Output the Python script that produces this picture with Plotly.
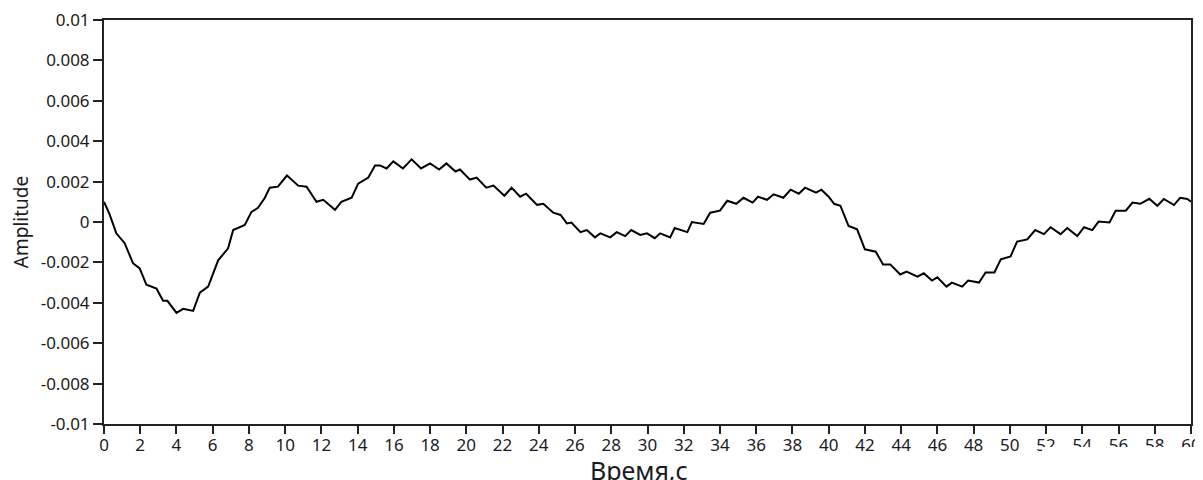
import plotly.graph_objects as go

time_s = [0, 0.3, 0.68, 1.14, 1.6, 1.97, 2.34, 2.9, 3.26, 3.5, 4.0, 4.37, 4.92, 5.29, 5.75, 6.3,
          6.85, 7.13, 7.77, 8.14, 8.5, 8.88, 9.15, 9.6, 10.1, 10.72, 11.18, 11.73, 12.1, 12.75,
          13.1, 13.67, 14.03, 14.59, 14.96, 15.23, 15.6, 15.97, 16.5, 16.98, 17.5, 18.0, 18.5,
          18.9, 19.4, 19.65, 20.2, 20.57, 21.1, 21.5, 22.1, 22.5, 22.97, 23.3, 23.9, 24.25,
          24.8, 25.2, 25.55, 25.8, 26.3, 26.65, 27.1, 27.4, 27.94, 28.3, 28.77, 29.1, 29.6,
          29.97, 30.4, 30.7, 31.25, 31.5, 32.2, 32.45, 33.1, 33.46, 34.0, 34.4, 34.9, 35.3,
          35.8, 36.1, 36.6, 36.96, 37.5, 37.9, 38.35, 38.7, 39.3, 39.6, 40.0, 40.3, 40.65,
          41.1, 41.57, 42.0, 42.6, 43.0, 43.4, 43.95, 44.3, 44.9, 45.25, 45.7, 46.0, 46.5,
          46.8, 47.37, 47.7, 48.3, 48.66, 49.15, 49.5, 50.04, 50.4, 50.96, 51.4, 51.88, 52.25,
          52.8, 53.17, 53.72, 54.1, 54.55, 54.9, 55.5, 55.84, 56.4, 56.77, 57.2, 57.7, 58.14,
          58.5, 59.06, 59.4, 59.8, 60.0]

amplitude = [0.0010, 0.0004, -0.00056, -0.00105, -0.00204, -0.0023, -0.0031, -0.0033, -0.0039,
             -0.0039, -0.0045, -0.0043, -0.0044, -0.0035, -0.0032, -0.0019, -0.0013, -0.0004,
             -0.00015, 0.0005, 0.0007, 0.0012, 0.0017, 0.00175, 0.0023, 0.0018, 0.00175, 0.0010,
             0.0011, 0.0006, 0.0010, 0.0012, 0.0019, 0.0022, 0.0028, 0.0028, 0.00265, 0.0030,
             0.00265, 0.0031, 0.00265, 0.0029, 0.0026, 0.0029, 0.0025, 0.0026, 0.0021, 0.0022,
             0.0017, 0.0018, 0.0013, 0.0017, 0.00125, 0.0014, 0.00085, 0.0009, 0.00046, 0.00035,
             -0.00007, -0.00003, -0.0005, -0.0004, -0.00076, -0.00056, -0.00076, -0.0005,
             -0.0007, -0.0004, -0.00064, -0.00056, -0.0008, -0.00056, -0.00076, -0.0003,
             -0.0005, 0.0, -0.0001, 0.00046, 0.00056, 0.00105, 0.0009, 0.0012, 0.00096, 0.00125,
             0.0011, 0.00137, 0.0012, 0.0016, 0.0014, 0.0017, 0.00145, 0.0016, 0.00125, 0.0009,
             0.0008, -0.0002, -0.00036, -0.00135, -0.00147, -0.0021, -0.0021, -0.0026, -0.00246,
             -0.0027, -0.00254, -0.0029, -0.00274, -0.0032, -0.0030, -0.0032, -0.0029, -0.0030,
             -0.0025, -0.0025, -0.00185, -0.0017, -0.00097, -0.00086, -0.0004, -0.0006,
             -0.00026, -0.0006, -0.0003, -0.0007, -0.00026, -0.0004, 0.00002, -0.00002, 0.00056,
             0.00056, 0.00096, 0.0009, 0.00115, 0.0008, 0.00114, 0.00084, 0.0012, 0.00114, 0.0010]

x_ticks = list(range(0, 61, 2))
x_tick_text = [str(v) for v in x_ticks]
y_ticks = [0.01, 0.008, 0.006, 0.004, 0.002, 0, -0.002, -0.004, -0.006, -0.008, -0.01]
y_tick_text = ["0.01", "0.008", "0.006", "0.004", "0.002", "0",
               "-0.002", "-0.004", "-0.006", "-0.008", "-0.01"]
x_title = "Время,с"
y_title = "Amplitude"

font_family = "Noto Sans, Open Sans, sans-serif"
label_color = "#1a1a22"

fig = go.Figure()
fig.add_trace(go.Scatter(x=time_s, y=amplitude, mode="lines",
                         line=dict(color="#000000", width=2), showlegend=False))

# page body adds an 8px offset; figure sized so the plot box lands at x 104-1191, y 20-424
fig.update_layout(
    template="none",
    width=1195, height=472,
    margin=dict(l=96, r=12, t=12, b=56, pad=0),
    paper_bgcolor="white", plot_bgcolor="white",
    font=dict(family=font_family, size=17, color=label_color),
    shapes=[dict(type="rect", xref="paper", yref="paper",
                 x0=0.863, x1=1.02, y0=-0.057, y1=-0.094,
                 fillcolor="white", line=dict(width=0), layer="above")],
    annotations=[dict(text=x_title, xref="paper", yref="paper", x=0.492, y=-0.066,
                      xanchor="center", yanchor="top", showarrow=False,
                      font=dict(size=25, color=label_color))],
)
fig.update_xaxes(
    range=[0, 60], tickmode="array", tickvals=x_ticks, ticktext=x_tick_text,
    automargin=False, ticklabeloverflow="allow",
    showgrid=False, zeroline=False,
    showline=True, linecolor="#222", linewidth=2, mirror=True,
    ticks="outside", ticklen=8, tickwidth=2, tickcolor="#222",
    ticklabelstandoff=-3,
    tickfont=dict(size=17, color=label_color),
)
fig.update_yaxes(
    range=[-0.01, 0.01], tickmode="array", tickvals=y_ticks, ticktext=y_tick_text,
    automargin=False, ticklabeloverflow="allow",
    showgrid=False, zeroline=False,
    showline=True, linecolor="#222", linewidth=2, mirror=True,
    ticks="outside", ticklen=9, tickwidth=2, tickcolor="#222",
    tickfont=dict(size=17, color=label_color),
    title=dict(text=y_title, font=dict(size=19, color=label_color), standoff=14),
)

fig.write_html("out.html")
